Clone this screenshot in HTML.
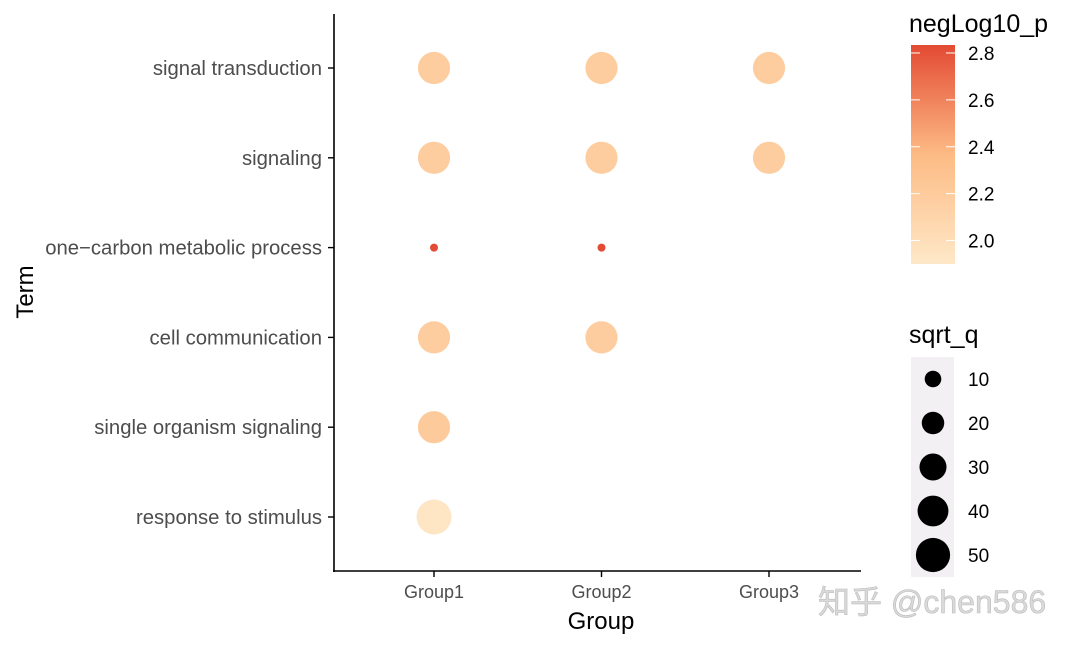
<!DOCTYPE html>
<html><head><meta charset="utf-8"><style>
body{margin:0;background:#fff;}
svg{display:block;font-family:"Liberation Sans","Noto Sans CJK SC",sans-serif;}
</style></head><body>
<svg width="1080" height="648">
<defs><linearGradient id="cg" x1="0" y1="1" x2="0" y2="0">
<stop offset="0" stop-color="#fee8c8"/><stop offset="0.5" stop-color="#fdbb84"/><stop offset="1" stop-color="#e34a33"/></linearGradient></defs>
<g id="axes"></g><g id="dots"></g><g id="legend"></g>
<text x="818" y="613" font-size="32" fill="#dadada" stroke="#bbb" stroke-width="0.6">知乎 @chen586</text>
</svg>
<script>
const terms=["signal transduction","signaling","one\u2212carbon metabolic process","cell communication","single organism signaling","response to stimulus"];
const groups=["Group1","Group2","Group3"];
const ptTerm=[0,0,0,1,1,1,2,2,3,3,4,5];
const ptGroup=[0,1,2,0,1,2,0,1,0,1,0,0];
const ptP=[2.18,2.18,2.18,2.18,2.18,2.18,2.83,2.83,2.18,2.18,2.21,1.93];
const ptQ=[42,42,42,42,42,42,1.5,1.5,42,42,42,50];
const colorTicks=[2.0,2.2,2.4,2.6,2.8];
const sizeTicks=[10,20,30,40,50];
const NS="http://www.w3.org/2000/svg";
function mk(p,t,a,txt){const e=document.createElementNS(NS,t);for(const k in a)e.setAttribute(k,a[k]);if(txt!=null)e.textContent=txt;p.appendChild(e);return e;}
const xS=i=>434+i*167.5, yS=i=>68+i*89.8;
const rS=v=>1.2+2.3*Math.sqrt(v);
const pMin=1.90,pMax=2.834;
function col(v){const t=Math.max(0,Math.min(1,(v-pMin)/(pMax-pMin)));const c=[[254,232,200],[253,187,132],[227,74,51]];let a,b,u;if(t<.5){a=c[0];b=c[1];u=t/.5}else{a=c[1];b=c[2];u=(t-.5)/.5}return `rgb(${a.map((x,i)=>Math.round(x+(b[i]-x)*u)).join(",")})`;}
const ax=document.getElementById('axes');
let e=mk(ax,'line',{x1:334,y1:14,x2:334,y2:572,stroke:'#000','stroke-width':1.6});

e=mk(ax,'line',{x1:333,y1:571,x2:861,y2:571,stroke:'#000','stroke-width':1.6});

terms.forEach((t,i)=>{mk(ax,'line',{x1:328,x2:334,y1:yS(i),y2:yS(i),stroke:'#000','stroke-width':1.4});
const l=mk(ax,'text',{x:322,y:yS(i)+7,'text-anchor':'end','font-size':20.3,fill:'#4d4d4d'},t);
});
groups.forEach((g,i)=>{mk(ax,'line',{x1:xS(i),x2:xS(i),y1:571,y2:577,stroke:'#000','stroke-width':1.4});
const l=mk(ax,'text',{x:xS(i),y:598,'text-anchor':'middle','font-size':18,fill:'#4d4d4d'},g);
});
e=mk(ax,'text',{x:601,y:629,'text-anchor':'middle','font-size':24},'Group');

e=mk(ax,'text',{x:33,y:292,'text-anchor':'middle','font-size':24,transform:'rotate(-90 33 292)'},'Term');

const dg=document.getElementById('dots');
ptTerm.forEach((t,i)=>{const c=mk(dg,'circle',{cx:xS(ptGroup[i]),cy:yS(t),r:rS(ptQ[i]),fill:col(ptP[i])});
});
const lg=document.getElementById('legend');
e=mk(lg,'text',{x:909,y:32,'font-size':25},'negLog10_p');

e=mk(lg,'rect',{x:911,y:45,width:44,height:219,fill:'url(#cg)'});

const cy=v=>264-(v-pMin)/(pMax-pMin)*219;
colorTicks.forEach(v=>{const y=cy(v);mk(lg,'line',{x1:911,x2:920,y1:y,y2:y,stroke:'#fff','stroke-width':1});mk(lg,'line',{x1:946,x2:955,y1:y,y2:y,stroke:'#fff','stroke-width':1});
const l=mk(lg,'text',{x:968,y:y+7,'font-size':19},v.toFixed(1));});
e=mk(lg,'text',{x:909,y:343,'font-size':25},'sqrt_q');

e=mk(lg,'rect',{x:911,y:357,width:43,height:220,fill:'#f2f0f2'});

sizeTicks.forEach((v,i)=>{const y=379+i*44;const c=mk(lg,'circle',{cx:933,cy:y,r:rS(v)*0.98,fill:'#000'});

const l=mk(lg,'text',{x:968,y:y+7,'font-size':19},String(v));});
</script>
</body></html>
